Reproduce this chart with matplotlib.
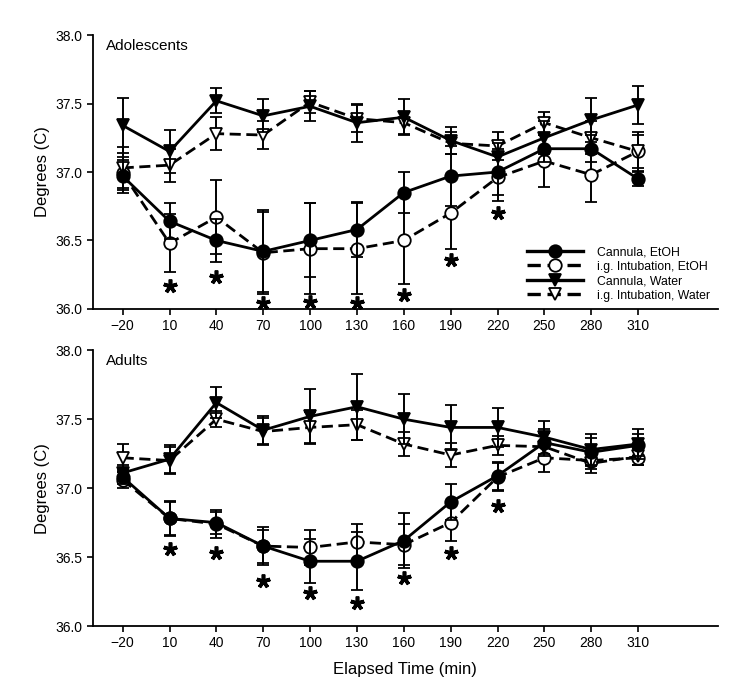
import matplotlib
matplotlib.use("Agg")
import matplotlib.pyplot as plt
from matplotlib.lines import Line2D

plt.rcParams['font.family'] = ['Liberation Sans', 'DejaVu Sans']

times = [-20, 10, 40, 70, 100, 130, 160, 190, 220, 250, 280, 310]
series_names = ['Cannula, EtOH', 'i.g. Intubation, EtOH',
                'Cannula, Water', 'i.g. Intubation, Water']

# Adolescents
adol_cannula_etoh = [36.97, 36.64, 36.50, 36.42, 36.50, 36.58, 36.85, 36.97, 37.00, 37.17, 37.17, 36.95]
adol_cannula_etoh_err = [0.12, 0.13, 0.16, 0.30, 0.27, 0.20, 0.15, 0.22, 0.17, 0.10, 0.10, 0.05]
adol_ig_etoh = [36.99, 36.48, 36.67, 36.41, 36.44, 36.44, 36.50, 36.70, 36.96, 37.08, 36.98, 37.15]
adol_ig_etoh_err = [0.12, 0.21, 0.27, 0.30, 0.33, 0.33, 0.32, 0.26, 0.17, 0.19, 0.20, 0.12]
adol_cannula_water = [37.34, 37.15, 37.52, 37.41, 37.48, 37.36, 37.40, 37.23, 37.11, 37.25, 37.38, 37.49]
adol_cannula_water_err = [0.20, 0.16, 0.09, 0.12, 0.11, 0.14, 0.13, 0.10, 0.10, 0.12, 0.16, 0.14]
adol_ig_water = [37.03, 37.05, 37.28, 37.27, 37.51, 37.39, 37.36, 37.21, 37.19, 37.36, 37.25, 37.15]
adol_ig_water_err = [0.15, 0.12, 0.12, 0.10, 0.08, 0.10, 0.08, 0.08, 0.10, 0.08, 0.12, 0.14]
adol_star_times = [10, 40, 70, 100, 130, 160, 190, 220]
adol_star_y = [36.17, 36.23, 36.04, 36.05, 36.04, 36.10, 36.36, 36.70]

# Adults
adult_cannula_etoh = [37.08, 36.78, 36.75, 36.58, 36.47, 36.47, 36.62, 36.90, 37.09, 37.33, 37.26, 37.31]
adult_cannula_etoh_err = [0.05, 0.12, 0.08, 0.12, 0.16, 0.21, 0.20, 0.13, 0.10, 0.10, 0.10, 0.08]
adult_ig_etoh = [37.06, 36.78, 36.74, 36.58, 36.57, 36.61, 36.59, 36.75, 37.08, 37.22, 37.20, 37.22]
adult_ig_etoh_err = [0.06, 0.13, 0.10, 0.14, 0.13, 0.13, 0.15, 0.13, 0.10, 0.10, 0.06, 0.05]
adult_cannula_water = [37.11, 37.21, 37.62, 37.42, 37.52, 37.59, 37.50, 37.44, 37.44, 37.37, 37.28, 37.32]
adult_cannula_water_err = [0.06, 0.10, 0.11, 0.10, 0.20, 0.24, 0.18, 0.16, 0.14, 0.12, 0.11, 0.11]
adult_ig_water = [37.22, 37.20, 37.50, 37.41, 37.44, 37.46, 37.32, 37.24, 37.31, 37.30, 37.18, 37.23]
adult_ig_water_err = [0.10, 0.10, 0.06, 0.10, 0.11, 0.11, 0.09, 0.09, 0.07, 0.10, 0.07, 0.06]
adult_star_times = [10, 40, 70, 100, 130, 160, 190, 220]
adult_star_y = [36.56, 36.53, 36.33, 36.24, 36.17, 36.35, 36.53, 36.87]

dash = (0, (4, 2))
styles = [
    dict(marker='o', mfc='black', ls='-'),
    dict(marker='o', mfc='white', ls=dash),
    dict(marker='v', mfc='black', ls='-'),
    dict(marker='v', mfc='white', ls=dash),
]


def draw_panel(ax, data, errs, stars_x, stars_y, title, legend=False):
    for i, (y, e) in enumerate(zip(data, errs)):
        st = styles[i]
        ax.errorbar(times, y, yerr=e, color='black', lw=2.0, ls=st['ls'],
                    marker=st['marker'], mfc=st['mfc'], mec='black', mew=1.3,
                    ms=9, ecolor='black', elinewidth=1.4, capsize=4, capthick=1.4,
                    zorder=3 + (1 if st['mfc'] == 'black' else 0))
    # significance asterisks
    ax.plot(stars_x, stars_y, ls='none', marker=(5, 2, 0), ms=10, mew=2.6,
            color='black', zorder=5)
    ax.set_xlim(-39, 361)
    ax.set_ylim(36.0, 38.0)
    ax.set_xticks(times)
    ax.set_yticks([36.0, 36.5, 37.0, 37.5, 38.0])
    ax.set_yticklabels(['36.0', '36.5', '37.0', '37.5', '38.0'])
    ax.spines['top'].set_visible(False)
    ax.spines['right'].set_visible(False)
    ax.spines['left'].set_linewidth(1.3)
    ax.spines['bottom'].set_linewidth(1.3)
    ax.tick_params(labelsize=10, width=1.2, length=4)
    ax.set_ylabel('Degrees (C)', fontsize=12)
    ax.text(0.02, 0.985, title, transform=ax.transAxes, fontsize=11, va='top')
    if legend:
        handles = [Line2D([], [], color='black', lw=2.4, ls=st['ls'],
                          marker=st['marker'], mfc=st['mfc'], mec='black',
                          mew=1.3, ms=9) for st in styles]
        ax.legend(handles, series_names, loc='lower right',
                  bbox_to_anchor=(1.0, 0.0), frameon=False,
                  fontsize=8.8, handlelength=4.6, labelspacing=0.2,
                  handletextpad=1.2, borderaxespad=0.3, borderpad=0.3)


fig = plt.figure(figsize=(7.5, 6.88), dpi=100)
ax1 = fig.add_axes([0.124, 0.551, 0.833, 0.398])
ax2 = fig.add_axes([0.124, 0.090, 0.833, 0.401])

draw_panel(ax1,
           [adol_cannula_etoh, adol_ig_etoh, adol_cannula_water, adol_ig_water],
           [adol_cannula_etoh_err, adol_ig_etoh_err, adol_cannula_water_err, adol_ig_water_err],
           adol_star_times, adol_star_y, 'Adolescents', legend=True)
draw_panel(ax2,
           [adult_cannula_etoh, adult_ig_etoh, adult_cannula_water, adult_ig_water],
           [adult_cannula_etoh_err, adult_ig_etoh_err, adult_cannula_water_err, adult_ig_water_err],
           adult_star_times, adult_star_y, 'Adults')
ax2.set_xlabel('Elapsed Time (min)', fontsize=12, labelpad=8)

fig.savefig('out.png', dpi=100)
